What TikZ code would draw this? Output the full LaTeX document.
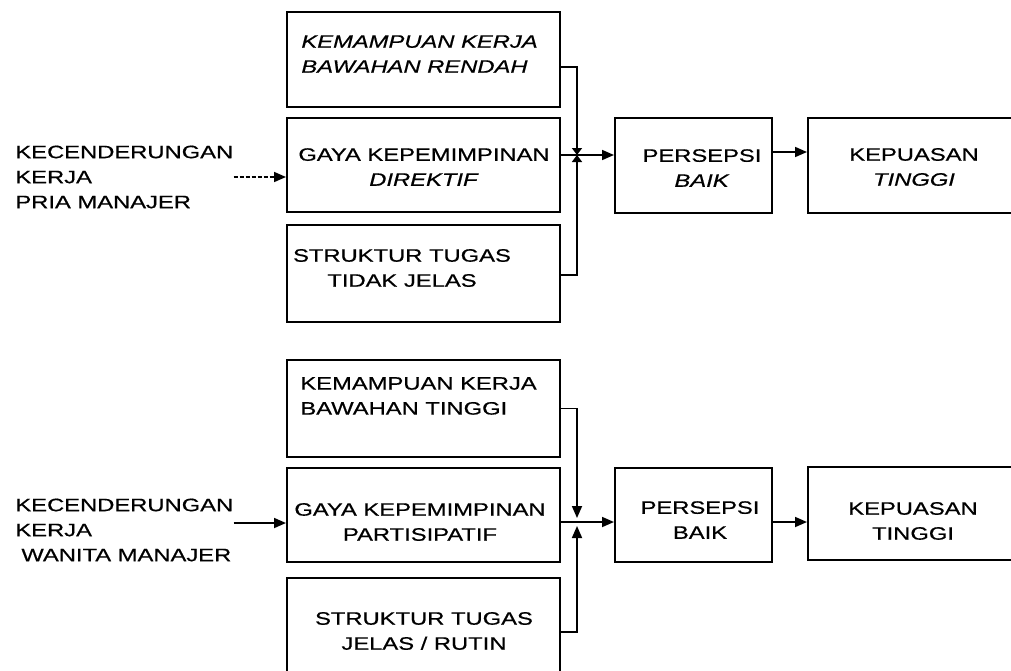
\documentclass[tikz,border=0pt]{standalone}
\usepackage{fontspec}
\setmainfont{Liberation Sans}[FakeStretch=1.32, FakeBold=0.6]
\usetikzlibrary{arrows.meta, positioning, calc}

\begin{document}
\begin{tikzpicture}[x=0.5pt, y=-0.5pt, >={Triangle[length=6pt, width=5pt]},
    font=\fontsize{9}{12.5}\selectfont,
    box/.style={draw, line width=1pt, minimum width=136.5pt, minimum height=47.5pt, inner sep=0pt},
    persbox/.style={box, minimum width=78.5pt},
    kepbox/.style={box, minimum width=106pt},
    txt/.style={inner sep=0pt, align=center},
    wire/.style={line width=0.85pt},
    smalltip/.style={-{Triangle[length=3.5pt, width=5pt]}}]
    \useasboundingbox (0,0) rectangle (1011,670);
    \clip (0,0) rectangle (1011,670);

    % Pria manajer
    \node [txt, align=left, anchor=west] (in1) at (15,177) {KECENDERUNGAN\\KERJA\\PRIA MANAJER};
    \node [box] (kem1) at (423.5,59.5) {};
    \node [txt, align=left, anchor=west] (kem1t) at (301,54) {\textit{KEMAMPUAN KERJA}\\\textit{BAWAHAN RENDAH}};
    \node [box, minimum height=47pt] (gaya1) at (423.5,165) {};
    \node [txt] (gaya1t) at (424,167) {GAYA KEPEMIMPINAN\\\textit{DIREKTIF}};
    \node [box, minimum height=48.5pt] (str1) at (423.5,273.5) {};
    \node [txt] (str1t) at (402,268) {STRUKTUR TUGAS\\TIDAK JELAS};
    \node [persbox] (per1) at (693.5,165.5) {};
    \node [txt] (per1t) at (702,168) {PERSEPSI\\\textit{BAIK}};
    \node [kepbox] (kep1) at (914,165.5) {};
    \node [txt] (kep1t) at (914,167) {KEPUASAN\\\textit{TINGGI}};
    \coordinate (j1) at (577,155);

    \draw [wire, ->, dash pattern=on 2pt off 1pt] (in1.east) -- (in1.east -| gaya1.west);
    \draw [wire, smalltip] (kem1.east |- 0,67) -| (j1);
    \draw [wire, smalltip] (str1.east |- 0,275) -| (j1);
    \draw [wire, ->] (gaya1.east |- j1) -- (per1.west |- j1);
    \draw [wire, ->] (per1.east |- 0,152) -- (kep1.west |- 0,152);

    % Wanita manajer
    \node [txt, align=left, anchor=west] (in2) at (15,530) {KECENDERUNGAN\\KERJA\\\hspace*{3pt}WANITA MANAJER};
    \node [box, minimum height=48.5pt] (kem2) at (423.5,408.5) {};
    \node [txt, align=left, anchor=west] (kem2t) at (300,396) {KEMAMPUAN KERJA\\BAWAHAN TINGGI};
    \node [box, minimum height=47pt] (gaya2) at (423.5,515) {};
    \node [txt] (gaya2t) at (420,522) {GAYA KEPEMIMPINAN\\PARTISIPATIF};
    \node [box, minimum height=48.5pt] (str2) at (423.5,626.5) {};
    \node [txt] (str2t) at (424,631) {STRUKTUR TUGAS\\JELAS / RUTIN};
    \node [persbox, minimum height=47pt] (per2) at (693.5,515) {};
    \node [txt] (per2t) at (700,520) {PERSEPSI\\BAIK};
    \node [kepbox, minimum height=46.5pt] (kep2) at (914,513.5) {};
    \node [txt] (kep2t) at (913,521) {KEPUASAN\\TINGGI};
    \coordinate (j2) at (577,522);
    \coordinate (in2o) at ([yshift=3.5pt]in2.east);

    \draw [wire, ->] (in2o) -- (in2o -| gaya2.west);
    \draw [wire, ->, shorten >=2pt] (kem2.east) -| (j2);
    \draw [wire, ->, shorten >=2pt] (str2.east |- 0,632) -| (j2);
    \draw [wire, ->] (gaya2.east |- j2) -- (per2.west |- j2);
    \draw [wire, ->] (per2.east |- j2) -- (kep2.west |- j2);
\end{tikzpicture}
\end{document}
